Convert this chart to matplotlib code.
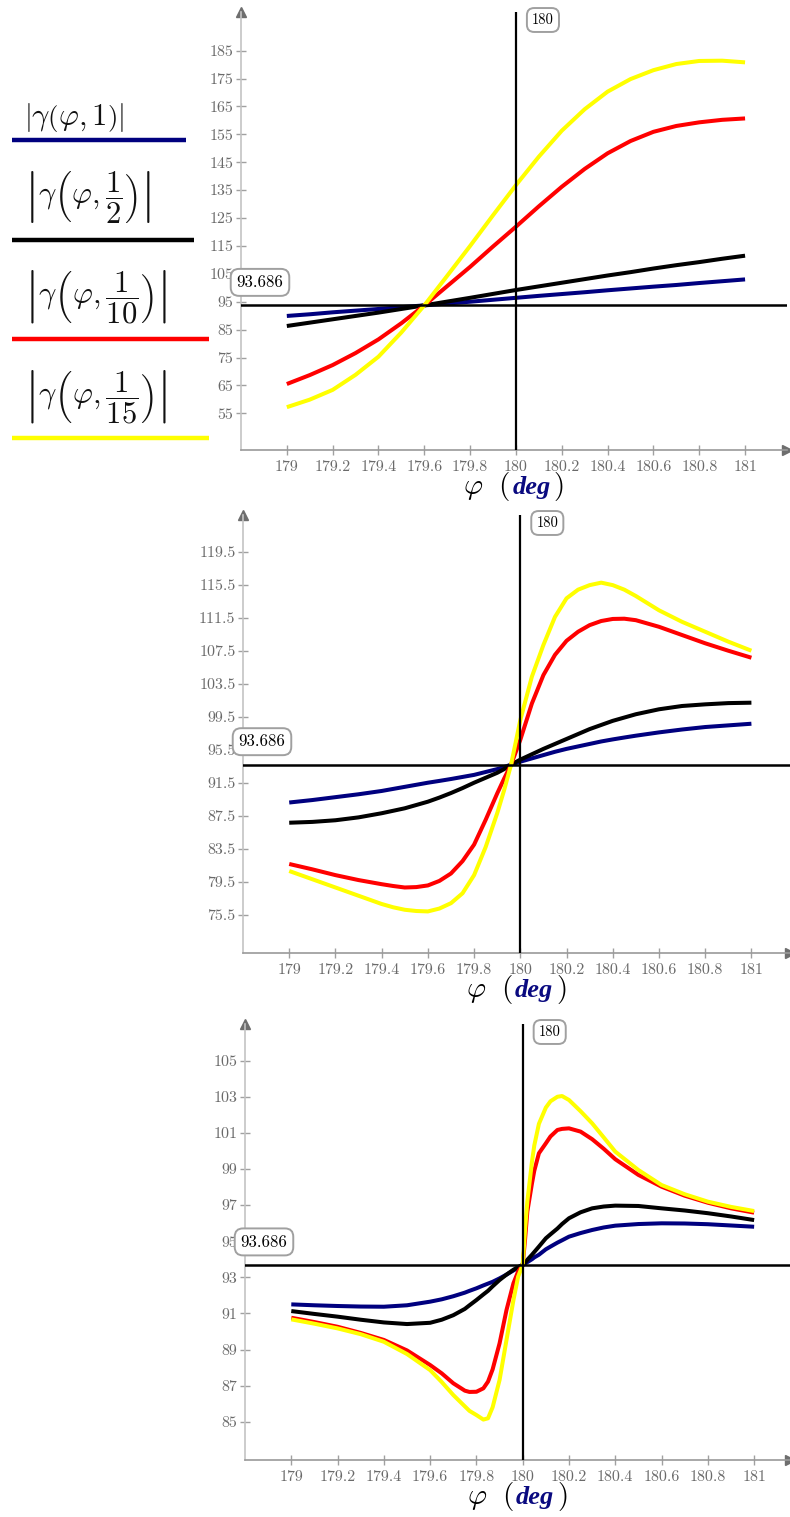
import matplotlib
matplotlib.use('Agg')
import matplotlib.pyplot as plt
from matplotlib.offsetbox import TextArea, HPacker, AnnotationBbox, DrawingArea

plt.rcParams['font.family'] = ['cmr10', 'DejaVu Serif']
plt.rcParams['mathtext.fontset'] = 'cm'
plt.rcParams['axes.unicode_minus'] = False

W, H = 790, 1517

# ---- data ----------------------------------------------------------------
REF_LEVEL = 93.686
REF_PHI = 180

LEGEND_LABELS = [r'$\left|\gamma\left(\varphi,1\right)\right|$',
                 r'$\left|\gamma\left(\varphi,\dfrac{1}{2}\right)\right|$',
                 r'$\left|\gamma\left(\varphi,\dfrac{1}{10}\right)\right|$',
                 r'$\left|\gamma\left(\varphi,\dfrac{1}{15}\right)\right|$']
COLOURS = ['#00007f', '#000000', '#ff0000', '#ffff00']

x_ticks = [179, 179.2, 179.4, 179.6, 179.8, 180, 180.2, 180.4, 180.6, 180.8, 181]

# panel 1
phi_1 = [179.0, 179.1, 179.2, 179.3, 179.4, 179.5, 179.6, 179.7, 179.8, 179.9, 180.0,
         180.1, 180.2, 180.3, 180.4, 180.5, 180.6, 180.7, 180.8, 180.9, 181.0]
p1_blue = [89.9, 90.5, 91.2, 91.8, 92.4, 93.05, 93.69, 94.35, 95.0, 95.7, 96.4,
           97.1, 97.75, 98.4, 99.1, 99.75, 100.4, 101.0, 101.7, 102.35, 103.0]
p1_black = [86.3, 87.5, 88.7, 89.9, 91.1, 92.4, 93.69, 95.05, 96.4, 97.8, 99.2,
            100.5, 101.8, 103.1, 104.4, 105.6, 106.9, 108.1, 109.2, 110.4, 111.5]
p1_red = [65.5, 68.7, 72.3, 76.6, 81.5, 87.3, 93.69, 100.6, 107.5, 114.8, 121.9,
          129.2, 136.2, 142.6, 148.2, 152.6, 155.9, 158.0, 159.3, 160.2, 160.7]
p1_yellow = [57.2, 59.9, 63.4, 68.8, 75.3, 84.0, 93.69, 104.3, 115.0, 126.0, 136.8,
             147.0, 156.3, 164.0, 170.3, 174.8, 178.0, 180.2, 181.3, 181.4, 180.8]
y_ticks_1 = [55, 65, 75, 85, 95, 105, 115, 125, 135, 145, 155, 165, 175, 185]

# panel 2
phi_2 = [179.0, 179.1, 179.2, 179.3, 179.4, 179.45, 179.5, 179.55, 179.6, 179.65, 179.7,
         179.75, 179.8, 179.85, 179.9, 179.93, 179.96, 180.0, 180.05, 180.1, 180.15,
         180.2, 180.25, 180.3, 180.35, 180.4, 180.45, 180.5, 180.6, 180.7, 180.8,
         180.9, 181.0]
p2_blue = [89.1, 89.4, 89.75, 90.1, 90.5, 90.75, 91.0, 91.25, 91.5, 91.72, 91.95,
           92.2, 92.45, 92.8, 93.15, 93.4, 93.686, 94.05, 94.45, 94.85, 95.25,
           95.6, 95.9, 96.2, 96.5, 96.75, 96.98, 97.2, 97.6, 97.95, 98.25,
           98.45, 98.65]
p2_black = [86.65, 86.75, 86.95, 87.3, 87.8, 88.1, 88.4, 88.8, 89.2, 89.7, 90.25,
            90.85, 91.5, 92.1, 92.7, 93.15, 93.686, 94.3, 94.95, 95.6, 96.2,
            96.8, 97.4, 98.0, 98.5, 99.0, 99.4, 99.8, 100.4, 100.8, 101.0,
            101.15, 101.2]
p2_red = [81.65, 81.0, 80.3, 79.7, 79.2, 78.98, 78.8, 78.85, 79.05, 79.6, 80.5,
          82.0, 84.0, 87.0, 90.2, 92.0, 93.686, 96.7, 101.1, 104.55, 107.0,
          108.7, 109.8, 110.6, 111.1, 111.35, 111.38, 111.2, 110.4, 109.4, 108.4,
          107.5, 106.65]
p2_yellow = [80.8, 79.8, 78.8, 77.8, 76.8, 76.4, 76.1, 75.95, 75.9, 76.25, 76.9,
             78.1, 80.3, 83.7, 87.8, 90.6, 93.686, 99.1, 104.35, 108.2, 111.6,
             113.85, 114.9, 115.45, 115.75, 115.45, 114.9, 114.13, 112.4, 111.0, 109.8,
             108.6, 107.5]
y_ticks_2 = [75.5, 79.5, 83.5, 87.5, 91.5, 95.5, 99.5, 103.5, 107.5, 111.5, 115.5, 119.5]

# panel 3
phi_3 = [179.0, 179.1, 179.2, 179.3, 179.4, 179.5, 179.6, 179.65, 179.7, 179.75, 179.77,
         179.8, 179.83, 179.85, 179.87, 179.9, 179.93, 179.96, 179.98, 180.0, 180.01,
         180.02, 180.04, 180.05, 180.07, 180.1, 180.12, 180.15, 180.17, 180.2, 180.25,
         180.3, 180.35, 180.4, 180.5, 180.6, 180.7, 180.8, 180.9, 181.0]
p3_blue = [91.5, 91.45, 91.41, 91.38, 91.37, 91.45, 91.65, 91.78, 91.95, 92.15, 92.25,
           92.39, 92.55, 92.65, 92.75, 92.94, 93.15, 93.38, 93.53, 93.686, 93.76,
           93.84, 94.0, 94.1, 94.25, 94.55, 94.7, 94.92, 95.05, 95.25, 95.45,
           95.62, 95.76, 95.86, 95.95, 95.99, 95.98, 95.94, 95.87, 95.8]
p3_black = [91.13, 90.97, 90.82, 90.65, 90.5, 90.41, 90.48, 90.65, 90.9, 91.25, 91.45,
            91.74, 92.05, 92.25, 92.5, 92.85, 93.15, 93.42, 93.57, 93.686, 93.82,
            93.97, 94.25, 94.4, 94.7, 95.16, 95.38, 95.7, 95.95, 96.27, 96.6,
            96.82, 96.92, 96.97, 96.95, 96.82, 96.7, 96.55, 96.37, 96.17]
p3_red = [90.76, 90.52, 90.26, 89.92, 89.53, 88.95, 88.14, 87.68, 87.13, 86.72, 86.65,
          86.66, 86.85, 87.22, 87.9, 89.34, 91.19, 92.67, 93.31, 93.686, 95.07,
          96.64, 98.2, 98.9, 99.87, 100.42, 100.8, 101.16, 101.22, 101.25, 101.07,
          100.65, 100.12, 99.54, 98.67, 98.02, 97.52, 97.13, 96.82, 96.58]
p3_yellow = [90.67, 90.43, 90.17, 89.85, 89.43, 88.75, 87.86, 87.2, 86.48, 85.85, 85.6,
             85.37, 85.12, 85.19, 85.8, 87.31, 89.53, 91.74, 93.03, 93.686, 95.62,
             97.2, 99.4, 100.3, 101.5, 102.4, 102.75, 103.0, 103.04, 102.82, 102.2,
             101.53, 100.75, 99.96, 98.94, 98.11, 97.6, 97.19, 96.9, 96.67]
y_ticks_3 = [85, 87, 89, 91, 93, 95, 97, 99, 101, 103, 105]

fig = plt.figure(figsize=(W / 100, H / 100), dpi=100)

# legend column on the left, drawn in pixel coordinates
lax = fig.add_axes([0, 0, 1, 1])
lax.set_xlim(0, W)
lax.set_ylim(H, 0)
lax.axis('off')
text_y = [117, 197, 297, 397]
line_y = [140, 240, 339, 438]
line_end = [186, 194, 209, 209]
for label, c, ty, ly, le in zip(LEGEND_LABELS, COLOURS, text_y, line_y, line_end):
    lax.text(24, ty, label, fontsize=22, va='center', ha='left', color='#111111')
    lax.plot([12, le], [ly, ly], color=c, lw=3.2, solid_capstyle='butt')


def panel(box, xlim, ylim, phi, curves, yticks):
    l, t, r, b = box
    ax = fig.add_axes([l / W, 1 - b / H, (r - l) / W, (b - t) / H])
    ax.set_xlim(*xlim)
    ax.set_ylim(*ylim)
    for vals, c in zip(curves, COLOURS):
        ax.plot(phi, vals, color=c, lw=2.9, solid_capstyle='butt',
                solid_joinstyle='round', zorder=2)
    ax.axhline(REF_LEVEL, color='black', lw=1.8, zorder=3)
    ax.axvline(REF_PHI, color='black', lw=1.6, zorder=3)

    for s in ['top', 'right']:
        ax.spines[s].set_visible(False)
    ax.spines['left'].set_color('#c4c4c4')
    ax.spines['bottom'].set_color('#9a9a9a')
    ax.spines['left'].set_linewidth(1.2)
    ax.spines['bottom'].set_linewidth(1.2)
    ax.plot(0, 1, '^', color='#6e6e6e', ms=7, transform=ax.transAxes, clip_on=False)
    ax.plot(1, 0, '>', color='#6e6e6e', ms=7, transform=ax.transAxes, clip_on=False)

    ax.set_xticks(x_ticks)
    ax.set_xticklabels([f'{v:g}' for v in x_ticks])
    ax.set_yticks(yticks)
    ax.set_yticklabels([f'{v:g}' for v in yticks])
    ax.tick_params(direction='inout', length=7, width=1, color='#a0a0a0',
                   labelcolor='#6a6a6a', labelsize=11.5)
    ax.tick_params(axis='x', pad=4)
    ax.tick_params(axis='y', pad=2)

    ax.annotate(f'{REF_LEVEL:g}', xy=(0, REF_LEVEL), xycoords=('axes fraction', 'data'),
                xytext=(19, 23), textcoords='offset pixels', ha='center', va='center',
                fontsize=12, color='black', zorder=6, annotation_clip=False,
                bbox=dict(boxstyle='round,pad=0.35,rounding_size=0.5', fc='white',
                          ec='#a0a0a0', lw=1.4))
    ax.annotate(f'{REF_PHI:g}', xy=(REF_PHI, 1), xycoords=('data', 'axes fraction'),
                xytext=(27, -8), textcoords='offset pixels', ha='center', va='center',
                fontsize=10.5, color='black', zorder=6, annotation_clip=False,
                bbox=dict(boxstyle='round,pad=0.35,rounding_size=0.5', fc='white',
                          ec='#a0a0a0', lw=1.4))

    # axis title: black phi and brackets, navy bold italic unit
    parts = [TextArea(r'$\varphi$', textprops=dict(fontsize=21, color='black')),
             DrawingArea(7, 1),
             TextArea('(', textprops=dict(fontsize=21, color='black', family='cmr10')),
             TextArea('deg', textprops=dict(fontsize=19, color='#0a0a80',
                                             family='Liberation Serif',
                                             weight='bold', style='italic')),
             TextArea(')', textprops=dict(fontsize=21, color='black', family='cmr10'))]
    pack = HPacker(children=parts, align='baseline', pad=0, sep=2)
    ab = AnnotationBbox(pack, (0.5, 0), xycoords='axes fraction',
                        xybox=(0, -37), boxcoords='offset pixels',
                        box_alignment=(0.5, 0.5), frameon=False,
                        annotation_clip=False)
    ax.add_artist(ab)
    return ax


panel((241, 12, 787, 450), (178.8, 181.183), (41.85, 198.85), phi_1,
      [p1_blue, p1_black, p1_red, p1_yellow], y_ticks_1)
panel((243, 515, 790, 953), (178.8, 181.167), (70.86, 123.95), phi_2,
      [p2_blue, p2_black, p2_red, p2_yellow], y_ticks_2)
panel((245, 1024, 790, 1460), (178.8, 181.155), (82.88, 107.03), phi_3,
      [p3_blue, p3_black, p3_red, p3_yellow], y_ticks_3)

fig.savefig('out.png', dpi=100)
